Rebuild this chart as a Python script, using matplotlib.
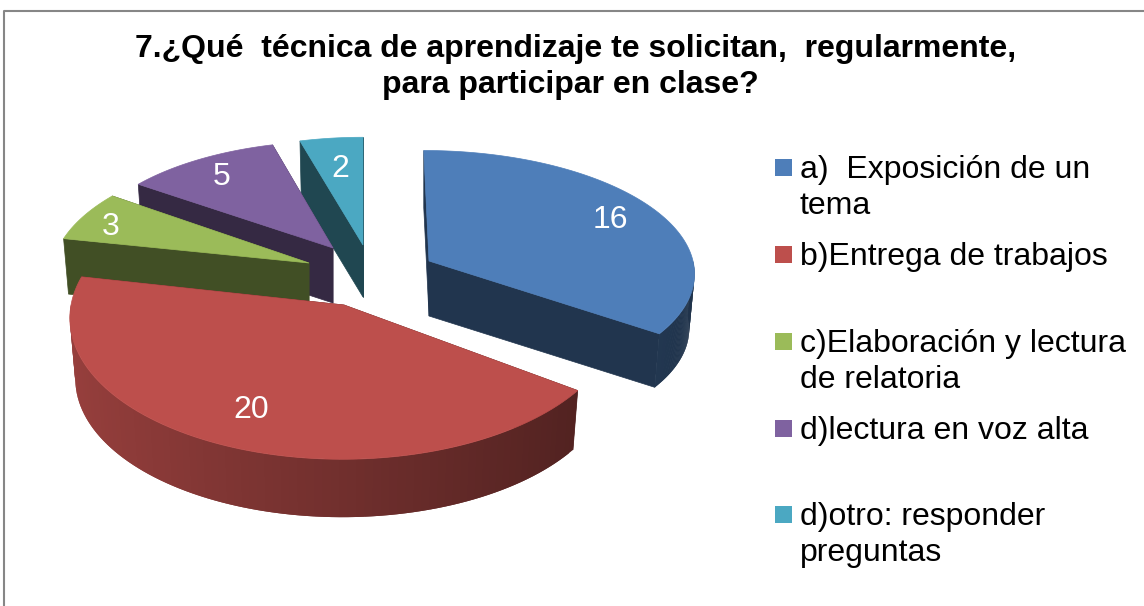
#coding=utf8
import numpy as np
import matplotlib
matplotlib.use('Agg')
import matplotlib.pyplot as plt

plt.rcParams['font.family'] = ['Liberation Sans', 'DejaVu Sans']

title1 = '7.¿Qué  técnica de aprendizaje te solicitan,  regularmente,'
title2 = 'para participar en clase?'

values = [16, 20, 3, 5, 2]
colors = ['#4E7EB9', '#BD4F4C', '#9BBB59', '#7F62A0', '#4BA8C2']

legend_lines = [['a)  Exposición de un', 'tema'],
                ['b)Entrega de trabajos'],
                ['c)Elaboración y lectura', 'de relatoria'],
                ['d)lectura en voz alta'],
                ['d)otro: responder', 'preguntas']]

# layout of each exploded slice: tip x, tip y, radius x, radius y, depth
slice_geom = [(429, 261, 264, 120, 55),
              (344, 305, 273, 141, 61),
              (309, 263, 256, 122, 55),
              (333, 248, 252, 116, 55),
              (363, 245, 253, 117, 52)]
label_pos = [(610, 220), (251, 410), (111, 227), (222, 177), (340, 169)]
legend_base = [178, 265, 352, 439, 525]
line_step = 36
persp = 0.086
vanish_x = 363
shrink = 0.98


def project(geom, ang, bottom=False):
    # ang is in radians, clockwise from the top
    cx, cy, rx, ry, depth = geom
    u = np.sin(ang)
    v = -np.cos(ang)
    w = 1 - persp * v
    s = shrink if bottom else 1.0
    x = vanish_x + (cx - vanish_x) / w + s * rx * u / w
    y = cy + s * ry * v / w
    if bottom:
        y = y + depth
    return x, y


def rgb(col, f):
    c = np.array(matplotlib.colors.to_rgb(col))
    return tuple(c * f)


def draw_slice(ax, geom, a1, a2, col):
    cx, cy, rx, ry, depth = geom
    wall = rgb(col, 0.42)
    # the two radial walls, the one further back first
    for a in sorted([a1, a2], key=lambda t: -np.cos(t)):
        xt, yt = project(geom, a)
        xb, yb = project(geom, a, True)
        ax.fill([cx, xt, xb, cx], [cy, yt, yb, cy + depth], color=wall, lw=0.5)
    # outer side, only the part that faces the viewer, darker to the right
    lo = max(a1, np.pi / 2)
    hi = min(a2, 3 * np.pi / 2)
    if hi > lo:
        angs = np.linspace(lo, hi, 90)
        for i in range(len(angs) - 1):
            seg = angs[i:i + 3]
            xt, yt = project(geom, seg)
            xb, yb = project(geom, seg, True)
            f = 0.6 - 0.2 * np.sin(angs[i])
            ax.fill(np.r_[xt, xb[::-1]], np.r_[yt, yb[::-1]], color=rgb(col, f), lw=0)
    # top face
    xt, yt = project(geom, np.linspace(a1, a2, 120))
    ax.fill(np.r_[cx, xt], np.r_[cy, yt], color=col, lw=0.5)


fig = plt.figure(figsize=(11.44, 6.06), dpi=100)
ax = fig.add_axes([0, 0, 1, 1])
ax.set_xlim(0, 1144)
ax.set_ylim(606, 0)
ax.axis('off')

# chart border, open on the right and at the bottom
ax.plot([4, 4, 1144], [606, 11, 11], color='#868686', lw=1.5)

ax.text(575.5, 57, title1, fontsize=23, fontweight='bold', ha='center', va='baseline')
ax.text(570.5, 93, title2, fontsize=23, fontweight='bold', ha='center', va='baseline')

edges = np.cumsum([0] + values) / float(sum(values)) * 2 * np.pi
# back slices first
for i in [4, 3, 2, 0, 1]:
    draw_slice(ax, slice_geom[i], edges[i], edges[i + 1], colors[i])

for i in range(len(values)):
    ax.text(label_pos[i][0], label_pos[i][1], str(values[i]), color='white',
            fontsize=23, ha='center', va='center')

for i in range(len(legend_lines)):
    base = legend_base[i]
    ax.fill([775, 792, 792, 775], [base - 19, base - 19, base - 2, base - 2],
            color=colors[i], lw=0)
    for j in range(len(legend_lines[i])):
        ax.text(800, base + j * line_step, legend_lines[i][j], fontsize=23,
                ha='left', va='baseline', color='black')

fig.savefig('out.png', dpi=100)
